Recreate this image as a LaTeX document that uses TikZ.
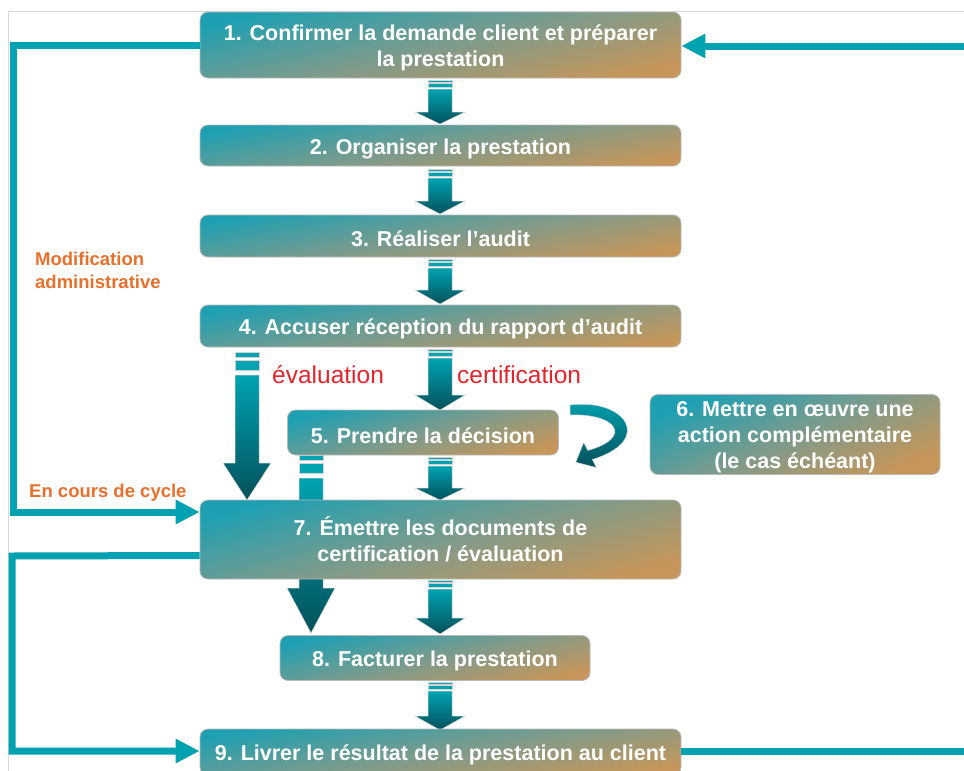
\documentclass[tikz,border=0pt]{standalone}
\usepackage{fontspec}
\setmainfont{Liberation Sans}
\usetikzlibrary{arrows.meta,calc}

\definecolor{boxteal}{RGB}{30,160,178}
\definecolor{boxmid}{RGB}{124,155,140}
\definecolor{boxtan}{RGB}{198,150,90}
\definecolor{loopteal}{RGB}{0,161,176}
\definecolor{arrtop}{RGB}{0,163,178}
\definecolor{arrbot}{RGB}{3,80,90}
\definecolor{labelorange}{RGB}{232,112,42}
\definecolor{labelred}{RGB}{227,36,43}
\definecolor{framegray}{RGB}{216,216,216}

\tikzset{
  stepbox/.style={rounded corners=8pt, draw=gray!55, line width=0.8pt,
    top color=boxteal, bottom color=boxtan, middle color=boxmid, inner sep=0pt},
  boxtext/.style={text=white, font=\bfseries\fontsize{21.5}{26}\selectfont,
    align=center, inner sep=0pt, yshift=-3pt},
  loopline/.style={draw=loopteal, line width=7pt},
  looptip/.style={-{Triangle[length=24pt,width=23pt]}},
  sidelabel/.style={text=labelorange, font=\bfseries\fontsize{18.5}{23}\selectfont,
    align=left, inner sep=0pt},
  pathlabel/.style={text=labelred, font=\fontsize{24.5}{28}\selectfont, inner sep=0pt},
  arrowbody/.style={top color=arrtop, bottom color=arrbot, draw=gray!35, line width=0.5pt},
  arrowstripe/.style={fill=arrtop, draw=gray!35, line width=0.5pt},
}

% striped block arrow: centre x, top, stripe unit, head base, tip, head half width
\newcommand{\blkarrow}[6]{%
  \path[arrowstripe] (#1-12,#2) rectangle (#1+12,#2+#3);
  \path[arrowstripe] (#1-12,#2+1.6*#3) rectangle (#1+12,#2+3.6*#3);
  \path[arrowbody] (#1-12,#2+4.6*#3) -- (#1-12,#4) -- (#1-#6,#4) -- (#1,#5)
    -- (#1+#6,#4) -- (#1+12,#4) -- (#1+12,#2+4.6*#3) -- cycle;
}

\begin{document}
\begin{tikzpicture}[x=1pt,y=-1pt]
\useasboundingbox (0,0) rectangle (964,771);
\clip (0,0) rectangle (964,771);

% thin page frame
\draw[framegray, line width=1pt] (964,11) -- (8,11) -- (8,771);

% block arrows (drawn under the boxes)
\blkarrow{440}{80}{2}{112}{124}{25}
\blkarrow{440}{169}{2}{201}{214}{25}
\blkarrow{440}{259}{2}{290}{304}{25}
\blkarrow{440}{349}{2}{395}{410}{25}
\blkarrow{440}{457}{2}{488}{500}{25}
\blkarrow{440}{580}{2}{618}{634}{25}
\blkarrow{440}{682}{2}{716}{730}{25}
\blkarrow{247}{352}{5}{463}{500}{24}
\blkarrow{311}{455}{5}{588}{633}{24}

% curved arrow towards the complementary action
\path[top color=arrtop, bottom color=arrbot, draw=gray!35, line width=0.5pt]
  (570,405) .. controls (625,398) and (655,440) .. (592.3,459.5)
  -- (596.3,467.5) -- (575.8,462.2) -- (583.7,442.5) -- (587.8,450.5)
  .. controls (635,437) and (615,413) .. (570,415) -- cycle;

% process steps (shading turned towards each box's diagonal)
\node[stepbox, shading angle=13, minimum width=481pt, minimum height=66pt,
  label={[boxtext]center:{1. Confirmer la demande client et préparer\\la prestation}}]
  (b1) at (440.5,45) {};
\node[stepbox, shading angle=10, minimum width=481pt, minimum height=41pt,
  label={[boxtext]center:{2. Organiser la prestation}}]
  (b2) at (440.5,145.5) {};
\node[stepbox, shading angle=10, minimum width=481pt, minimum height=42pt,
  label={[boxtext]center:{3. Réaliser l’audit}}]
  (b3) at (440.5,236) {};
\node[stepbox, shading angle=10, minimum width=481pt, minimum height=42pt,
  label={[boxtext]center:{4. Accuser réception du rapport d’audit}}]
  (b4) at (440.5,326) {};
\node[stepbox, shading angle=16, minimum width=271pt, minimum height=45pt,
  label={[boxtext]center:{5. Prendre la décision}}]
  (b5) at (423,432.5) {};
\node[stepbox, shading angle=24, minimum width=290pt, minimum height=80pt,
  label={[boxtext]center:{6. Mettre en œuvre une\\action complémentaire\\(le cas échéant)}}]
  (b6) at (795,434.5) {};
\node[stepbox, shading angle=15, minimum width=481pt, minimum height=79pt,
  label={[boxtext, yshift=3pt]center:{7. Émettre les documents de\\certification / évaluation}}]
  (b7) at (440.5,539.5) {};
\node[stepbox, shading angle=14, minimum width=310pt, minimum height=45pt,
  label={[boxtext]center:{8. Facturer la prestation}}]
  (b8) at (435,658) {};
\node[stepbox, shading angle=10, minimum width=481pt, minimum height=46pt,
  label={[boxtext]center:{9. Livrer le résultat de la prestation au client}}]
  (b9) at (440.5,752) {};

% labels
\node[sidelabel, anchor=west] (modlbl) at (35,270) {Modification\\administrative};
\node[sidelabel, anchor=west] (cyclbl) at (29,493) {En cours de cycle};
\node[pathlabel, anchor=base west] (evallbl) at (272,383) {évaluation};
\node[pathlabel, anchor=base west] (certlbl) at (457,383) {certification};

% feedback loops
\draw[loopline, looptip] (b1.west) -- (13.5,45) -- (13.5,512) -- ([yshift=27.5pt]b7.west);
\draw[loopline, looptip] ([yshift=-16pt]b7.west) -- (12,556) -- (12,751) -- ([yshift=1pt]b9.west);
\draw[loopline, looptip] ([yshift=1pt]b9.east) -- (985,751) -- (985,46) -- ([yshift=-1pt]b1.east);
\end{tikzpicture}
\end{document}
